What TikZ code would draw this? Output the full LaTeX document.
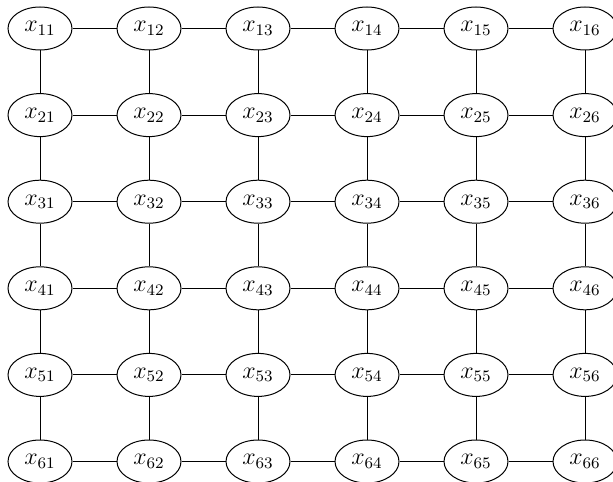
\documentclass[tikz,border=0pt]{standalone}
\usetikzlibrary{shapes.geometric}
\begin{document}
\begin{tikzpicture}[
  var/.style={draw, ellipse, line width=0.5pt, minimum width=32pt, minimum height=21.5pt, inner sep=0pt, font=\large},
  link/.style={line width=0.5pt}
]
\useasboundingbox (0,0) rectangle (306.5pt,-240.5pt);
\clip (0,0) rectangle (306.5pt,-240.5pt);
\foreach \i in {1,...,6}{
  \foreach \j in {1,...,6}{
    \node[var] (n\i\j) at ({20pt+(\j-1)*54.5pt},{-14.25pt-(\i-1)*43.3pt}) {$x_{\i\j}$};
  }
}
\foreach \i in {1,...,6}{
  \foreach \j [evaluate=\j as \k using int(\j+1)] in {1,...,5}{
    \draw[link] (n\i\j) -- (n\i\k);
  }
}
\foreach \i [evaluate=\i as \k using int(\i+1)] in {1,...,5}{
  \foreach \j in {1,...,6}{
    \draw[link] (n\i\j) -- (n\k\j);
  }
}
\end{tikzpicture}
\end{document}
